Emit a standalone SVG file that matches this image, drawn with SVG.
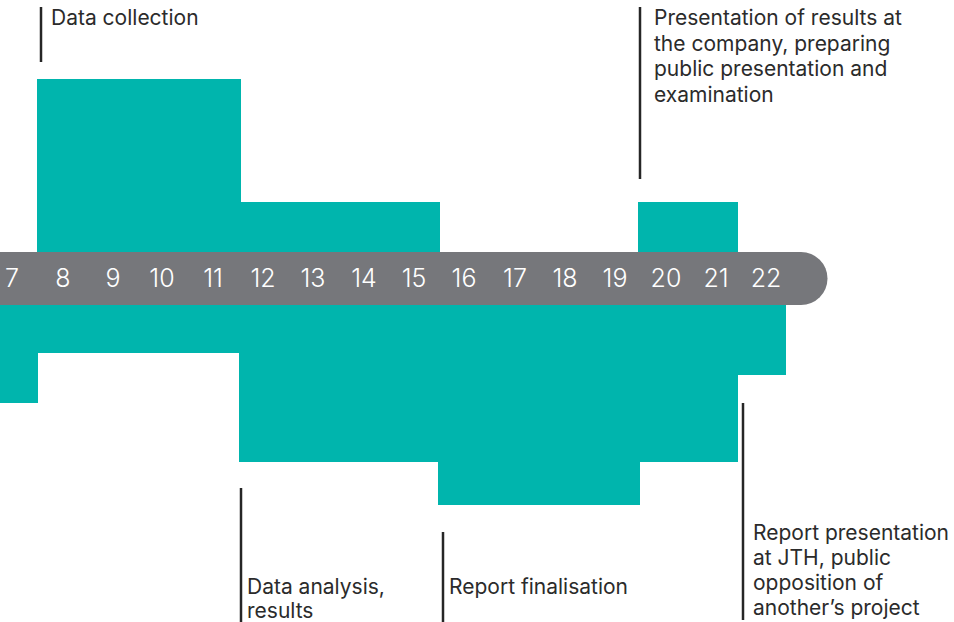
<svg xmlns="http://www.w3.org/2000/svg" width="954" height="622" viewBox="0 0 954 622">
<style>
.teal{fill:#00b5ad}
.bar{fill:#76777b}
.num{font-family:Inter,"Open Sans","Liberation Sans",sans-serif;font-size:25px;font-weight:300;fill:#ffffff;text-anchor:middle}
.lbl{font-family:Inter,"Open Sans","Liberation Sans",sans-serif;font-size:21px;fill:#2b2b2b}
.tick{stroke:#262626;stroke-width:2.5;fill:none}
</style>
<rect width="954" height="622" fill="#ffffff"/>
<g id="phases">
<path class="teal" d="M37,79 H241 V202 H440 V252 H37 Z"/>
<rect class="teal" x="638" y="202" width="100" height="50"/>
<path class="teal" d="M0,305 H786 V375 H738 V462 H640 V505 H438 V462 H239 V353 H38 V403 H0 Z"/>
</g>
<g id="timeline">
<path class="bar" d="M0,252 H801 A26.5,26.5 0 0 1 801,305 H0 Z"/>
<text class="num" x="12" y="287">7</text>
<text class="num" x="63" y="287">8</text>
<text class="num" x="113" y="287">9</text>
<text class="num" x="162" y="287">10</text>
<text class="num" x="213" y="287">11</text>
<text class="num" x="263" y="287">12</text>
<text class="num" x="313" y="287">13</text>
<text class="num" x="364" y="287">14</text>
<text class="num" x="414" y="287">15</text>
<text class="num" x="464" y="287">16</text>
<text class="num" x="515" y="287">17</text>
<text class="num" x="565" y="287">18</text>
<text class="num" x="615" y="287">19</text>
<text class="num" x="666" y="287">20</text>
<text class="num" x="716" y="287">21</text>
<text class="num" x="766" y="287">22</text>
</g>
<g id="connectors">
<line class="tick" x1="41" y1="7" x2="41" y2="62"/>
<line class="tick" x1="640" y1="7" x2="640" y2="179"/>
<line class="tick" x1="241" y1="488" x2="241" y2="622"/>
<line class="tick" x1="443" y1="532" x2="443" y2="622"/>
<line class="tick" x1="743" y1="403" x2="743" y2="620"/>
</g>
<g id="label-data-collection">
<text class="lbl" x="51" y="25">Data collection</text>
</g>
<g id="label-presentation-company">
<text class="lbl" x="654" y="25">Presentation of results at</text>
<text class="lbl" x="654" y="50.5">the company, preparing</text>
<text class="lbl" x="654" y="76">public presentation and</text>
<text class="lbl" x="654" y="101.5">examination</text>
</g>
<g id="label-data-analysis">
<text class="lbl" x="247" y="594">Data analysis,</text>
<text class="lbl" x="247" y="618">results</text>
</g>
<g id="label-report-finalisation">
<text class="lbl" x="449" y="594">Report finalisation</text>
</g>
<g id="label-report-presentation">
<text class="lbl" x="753" y="540">Report presentation</text>
<text class="lbl" x="753" y="565">at JTH, public</text>
<text class="lbl" x="753" y="590">opposition of</text>
<text class="lbl" x="753" y="615">another’s project</text>
</g>
</svg>
